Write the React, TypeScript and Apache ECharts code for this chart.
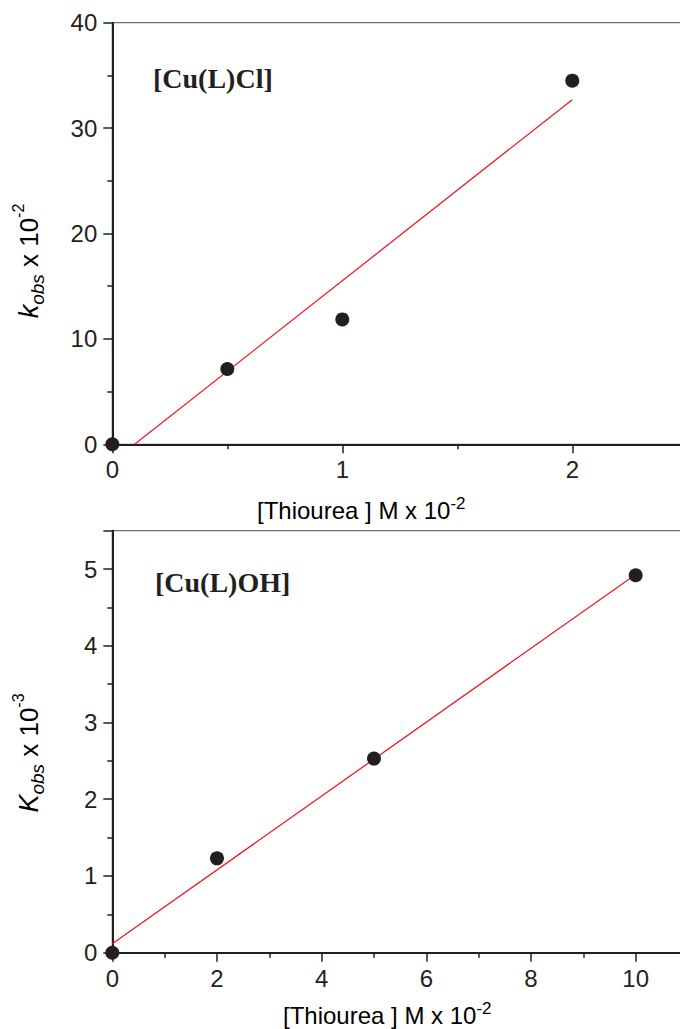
import React, { useEffect, useRef } from "react";
import * as echarts from "echarts";

// ---- Data ----
const clX = [0, 0.5, 1, 2];
const clY = [0, 7.15, 11.85, 34.5];
const clFit = [
  [0.097, 0],
  [2, 32.7],
];
const ohX = [0, 2, 5, 10];
const ohY = [0, 1.23, 2.53, 4.92];
const ohFit = [
  [0, 0.116],
  [10, 4.93],
];
const clLabel = "[Cu(L)Cl]";
const ohLabel = "[Cu(L)OH]";
const xName = "[Thiourea ] M x 10";
const xNameSup = "-2";
const clYSup = "-2";
const ohYSup = "-3";

const INK = "#231f20";
const RED = "#ed1c24";
const SANS = "'Liberation Sans', Arial, Helvetica, sans-serif";
const SERIF = "'Liberation Serif', 'Times New Roman', serif";

function axisCommon(extra: any) {
  return {
    type: "value",
    axisLine: { show: true, onZero: false, lineStyle: { color: INK, width: 2 } },
    axisTick: { show: true, inside: false, length: 9, lineStyle: { color: INK, width: 1.5 } },
    minorTick: { show: true, splitNumber: 2, length: 5, lineStyle: { color: INK, width: 1.5 } },
    splitLine: { show: false },
    minorSplitLine: { show: false },
    ...extra,
  };
}

const intOnly = (v: number) => (Math.abs(v - Math.round(v)) < 1e-9 ? String(Math.round(v)) : "");

export default function App() {
  const ref = useRef<HTMLDivElement>(null);
  useEffect(() => {
    if (!ref.current) return;
    const chart = echarts.init(ref.current, undefined, { renderer: "svg" });
    const labelBase = { color: INK, fontFamily: SANS, fontSize: 24 };
    const gridBase = {
      show: true,
      borderColor: "#6d6e71",
      borderWidth: 1.3,
      backgroundColor: "transparent",
      containLabel: false,
      outerBoundsMode: "none",
    };
    const option: any = {
      animation: false,
      backgroundColor: "#ffffff",
      grid: [
        { ...gridBase, left: 112.3, top: 22.7, width: 575, height: 421.6 },
        { ...gridBase, left: 112.3, top: 530.7, width: 575.7, height: 422 },
      ],
      xAxis: [
        axisCommon({
          gridIndex: 0, min: 0, max: 2.5, interval: 1,
          axisLabel: { ...labelBase, margin: 13, formatter: intOnly },
        }),
        axisCommon({
          gridIndex: 1, min: 0, max: 11, interval: 2,
          axisLabel: { ...labelBase, margin: 14, formatter: (v: number) => (v % 2 === 0 ? String(v) : "") },
        }),
      ],
      yAxis: [
        axisCommon({
          gridIndex: 0, min: 0, max: 40, interval: 10,
          axisLabel: { ...labelBase, margin: 15 },
        }),
        axisCommon({
          gridIndex: 1, min: 0, max: 5.5, interval: 1,
          axisLabel: { ...labelBase, margin: 15, formatter: intOnly },
        }),
      ],
      series: [
        {
          type: "line", xAxisIndex: 0, yAxisIndex: 0, data: clFit, showSymbol: false, symbol: "none",
          lineStyle: { color: RED, width: 1.3 }, z: 3, silent: true,
        },
        {
          type: "scatter", xAxisIndex: 0, yAxisIndex: 0, data: clX.map((x, i) => [x, clY[i]]),
          symbol: "circle", symbolSize: 14, itemStyle: { color: INK, opacity: 1 }, z: 4, clip: false,
        },
        {
          type: "line", xAxisIndex: 1, yAxisIndex: 1, data: ohFit, showSymbol: false, symbol: "none",
          lineStyle: { color: RED, width: 1.3 }, z: 3, silent: true,
        },
        {
          type: "scatter", xAxisIndex: 1, yAxisIndex: 1, data: ohX.map((x, i) => [x, ohY[i]]),
          symbol: "circle", symbolSize: 14, itemStyle: { color: INK, opacity: 1 }, z: 4, clip: false,
        },
      ],
      graphic: [
        {
          type: "text", x: 153, y: 78.5,
          style: { text: clLabel, font: `bold 28px ${SERIF}`, fill: INK, align: "left", verticalAlign: "middle" },
        },
        {
          type: "text", x: 155, y: 582,
          style: { text: ohLabel, font: `bold 28px ${SERIF}`, fill: INK, align: "left", verticalAlign: "middle" },
        },
        {
          type: "text", x: 257, y: 510,
          style: {
            text: `{a|${xName}}{s|${xNameSup}}`, align: "left", verticalAlign: "middle",
            rich: {
              a: { fontFamily: SANS, fontSize: 24, lineHeight: 30, color: INK },
              s: { fontFamily: SANS, fontSize: 17, lineHeight: 17, color: INK, verticalAlign: "top" },
            },
          },
        },
        {
          type: "text", x: 283, y: 1015,
          style: {
            text: `{a|${xName}}{s|${xNameSup}}`, align: "left", verticalAlign: "middle",
            rich: {
              a: { fontFamily: SANS, fontSize: 24, lineHeight: 30, color: INK },
              s: { fontFamily: SANS, fontSize: 17, lineHeight: 17, color: INK, verticalAlign: "top" },
            },
          },
        },
        {
          type: "text", x: 28.5, y: 261, rotation: Math.PI / 2,
          style: {
            text: `{k|k}{b|obs}{n| x 10}{s|${clYSup}}`, align: "center", verticalAlign: "middle",
            rich: {
              k: { fontFamily: SANS, fontStyle: "italic", fontSize: 27, lineHeight: 36, color: INK },
              b: { fontFamily: SANS, fontStyle: "italic", fontSize: 19, lineHeight: 26, color: INK, verticalAlign: "bottom" },
              n: { fontFamily: SANS, fontSize: 26, lineHeight: 36, color: INK },
              s: { fontFamily: SANS, fontSize: 16, lineHeight: 16, color: INK, verticalAlign: "top" },
            },
          },
        },
        {
          type: "text", x: 28.5, y: 753, rotation: Math.PI / 2,
          style: {
            text: `{k|K}{b|obs}{n| x 10}{s|${ohYSup}}`, align: "center", verticalAlign: "middle",
            rich: {
              k: { fontFamily: SANS, fontStyle: "italic", fontSize: 27, lineHeight: 36, color: INK },
              b: { fontFamily: SANS, fontStyle: "italic", fontSize: 19, lineHeight: 26, color: INK, verticalAlign: "bottom" },
              n: { fontFamily: SANS, fontSize: 26, lineHeight: 36, color: INK },
              s: { fontFamily: SANS, fontSize: 16, lineHeight: 16, color: INK, verticalAlign: "top" },
            },
          },
        },
      ],
    };
    chart.setOption(option);
    return () => chart.dispose();
  }, []);
  return (
    <div
      ref={ref}
      style={{ position: "absolute", left: 0, top: 0, width: 680, height: 1029, background: "#fff" }}
    />
  );
}
